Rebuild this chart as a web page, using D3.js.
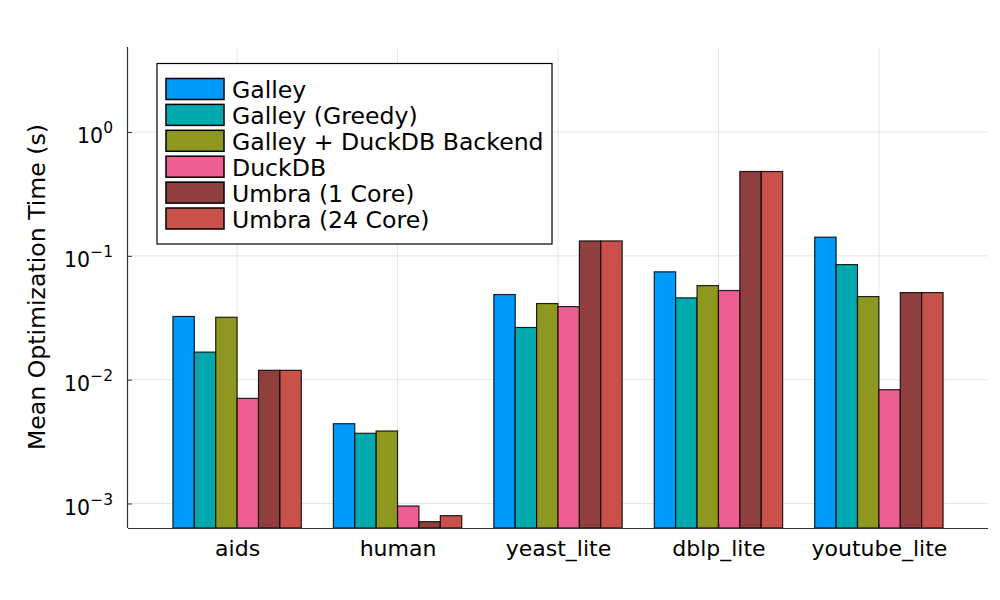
<!DOCTYPE html>
<html><head><meta charset="utf-8">
<script src="https://cdn.jsdelivr.net/npm/d3@7"></script>
<style>body{margin:0;background:#fff}svg{font-family:"DejaVu Sans",sans-serif}</style>
</head><body><svg id="c" width="1000" height="600"></svg>
<script>
const categories = ["aids","human","yeast_lite","dblp_lite","youtube_lite"];
const seriesNames = ["Galley","Galley (Greedy)","Galley + DuckDB Backend","DuckDB","Umbra (1 Core)","Umbra (24 Core)"];
const seriesColors = ["#009AFA","#00A9AD","#8E9720","#ED5E93","#8F403E","#C8514C"];
const galley   = [0.0324, 0.00441, 0.0487, 0.0743, 0.1416];
const greedy   = [0.0167, 0.00369, 0.0264, 0.0458, 0.085];
const backend  = [0.0319, 0.00385, 0.0412, 0.0575, 0.0469];
const duckdb   = [0.00706, 0.000954, 0.0389, 0.0525, 0.0083];
const umbra1   = [0.0119, 0.000713, 0.132, 0.48, 0.0505];
const umbra24  = [0.0119, 0.000797, 0.132, 0.48, 0.0505];
const yTicks = [1e-3, 1e-2, 1e-1, 1e0];
const yTickExp = ["\u22123","\u22122","\u22121","0"];
const yLabel = "Mean Optimization Time (s)";

const allSeries = [galley, greedy, backend, duckdb, umbra1, umbra24];
const svg = d3.select("#c");
const L=128, R=988, T=47, B=528;
const x = d3.scaleLinear().domain([-0.18, 5.18]).range([L, R]);
const y = d3.scaleLog().domain([Math.pow(10,-3.198), Math.pow(10,0.687)]).range([B, T]);

// grid
const g = svg.append("g");
g.selectAll(".gy").data(yTicks).join("line")
  .attr("x1",L).attr("x2",R).attr("y1",d=>y(d)).attr("y2",d=>y(d))
  .attr("stroke","#000").attr("stroke-opacity",0.1).attr("stroke-width",1);
g.selectAll(".gx").data(categories).join("line")
  .attr("x1",(d,i)=>x(i+0.5)).attr("x2",(d,i)=>x(i+0.5)).attr("y1",T).attr("y2",B)
  .attr("stroke","#000").attr("stroke-opacity",0.1).attr("stroke-width",1);

// bars
const bw = 0.8/6;
allSeries.forEach((s, j) => {
  svg.append("g").selectAll("rect").data(s).join("rect")
    .attr("x",(d,i)=>x(i+0.1+j*bw))
    .attr("width", x(bw)-x(0))
    .attr("y", d=>y(d))
    .attr("height", d=>B - y(d))
    .attr("fill", seriesColors[j])
    .attr("stroke","#000").attr("stroke-opacity",0.85).attr("stroke-width",1.2);
});

// axes
const xAxis = d3.axisBottom(x).tickValues(categories.map((c,i)=>i+0.5))
  .tickFormat((d,i)=>categories[i]).tickSizeInner(-4).tickSizeOuter(0).tickPadding(12);
const xg = svg.append("g").attr("transform",`translate(0,${B})`).call(xAxis);
xg.select(".domain").attr("d",`M${L},0.5H${R}`).attr("stroke","#333").attr("stroke-width",1.2);
xg.selectAll("text").attr("font-size",22).attr("fill","#000").attr("font-family","DejaVu Sans");
xg.selectAll(".tick line").attr("stroke","#333");

const yAxis = d3.axisLeft(y).tickValues(yTicks).tickFormat(()=> "").tickSizeInner(-4).tickSizeOuter(0);
const yg = svg.append("g").attr("transform",`translate(${L},0)`).call(yAxis);
yg.select(".domain").attr("d",`M-0.5,${T}V${B}`).attr("stroke","#333").attr("stroke-width",1.2);
yg.selectAll(".tick line").attr("stroke","#333");
yg.selectAll(".tick").each(function(d,i){
  const t = d3.select(this).append("text").attr("x",-15).attr("y",10.7)
    .attr("text-anchor","end").attr("fill","#000").attr("font-family","DejaVu Sans");
  t.append("tspan").attr("font-size",20.5).text("10");
  t.append("tspan").attr("font-size",15.5).attr("dy",-10).text(yTickExp[i]);
});

svg.append("text").attr("transform","translate(45,287) rotate(-90)")
  .attr("text-anchor","middle").attr("font-size",23.6).attr("fill","#000").text(yLabel);

// legend
const lg = svg.append("g");
lg.append("rect").attr("x",157).attr("y",63.5).attr("width",395).attr("height",180.5)
  .attr("fill","#fff").attr("stroke","#000").attr("stroke-width",1.2);
seriesNames.forEach((n,j)=>{
  const yy = 78.5 + j*25.9;
  lg.append("rect").attr("x",166).attr("y",yy).attr("width",58).attr("height",21)
    .attr("fill",seriesColors[j]).attr("stroke","#000").attr("stroke-width",1.5);
  lg.append("text").attr("x",232).attr("y",yy+19.8).attr("font-size",23.6).attr("fill","#000").text(n);
});
</script></body></html>
